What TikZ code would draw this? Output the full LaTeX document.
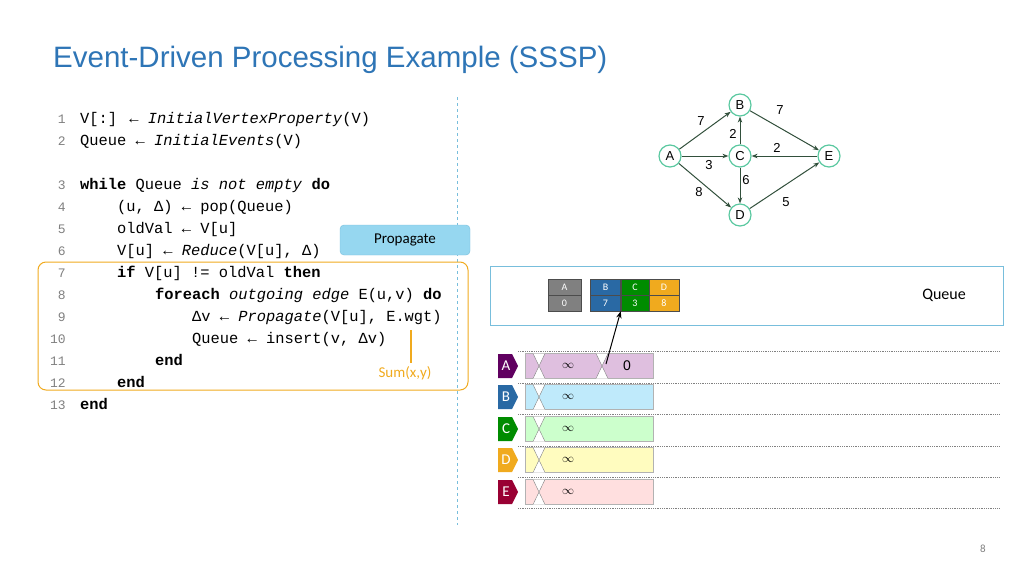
\documentclass[tikz,border=0pt]{standalone}
\usepackage{fontspec}
\setmainfont{Liberation Sans}
\newfontfamily\codefont{Liberation Mono}
\newfontfamily\calfont{Carlito}
\usetikzlibrary{arrows.meta,shapes.geometric}
\definecolor{ttl}{RGB}{46,117,182}
\definecolor{gr}{RGB}{90,200,160}
\definecolor{eg}{RGB}{50,80,60}
\definecolor{orn}{RGB}{240,170,30}
\definecolor{lbl}{RGB}{120,190,220}
\definecolor{pfill}{RGB}{150,215,240}
\begin{document}
\begin{tikzpicture}[x=1pt,y=-1pt,
 code/.style={anchor=base west,inner sep=0,font=\codefont\fontsize{15.4}{16}\selectfont},
 ln/.style={anchor=base east,inner sep=0,text=gray,font=\codefont\fontsize{13}{15}\selectfont},
 gn/.style={circle,draw=gr,line width=1.2pt,minimum size=22pt,inner sep=0,font=\fontsize{13}{14}\selectfont},
 ge/.style={-{Stealth[length=6pt]},eg,line width=1pt},
 el/.style={font=\fontsize{13}{14}\selectfont,inner sep=1pt},
 qc/.style={minimum width=30pt,minimum height=16pt,inner sep=0,draw=black!70,text=white,font=\calfont\fontsize{10}{11}\selectfont},
 bar/.style={minimum width=128pt,minimum height=25pt,inner sep=0,draw=gray!60},
 tagt/.style={text=white,inner sep=0,font=\calfont\fontsize{15}{16}\selectfont},
 dl/.style={gray,densely dotted,line width=0.8pt}]
\useasboundingbox (0,0) rectangle (1024,576);
\node[anchor=west,text=ttl,inner sep=0,font=\fontsize{29.5}{32}\selectfont] (title) at (53,60) {Event-Driven Processing Example (SSSP)};
% code
\foreach \n/\y in {1/118,2/140,3/184,4/206,5/228,6/250,7/272,8/294,9/316,10/338,11/360,12/382,13/404}
  \node[ln] (l\n) at (66,\y+5) {\n};
\node[code] (c1) at (80,123) {V[:] ← \textit{InitialVertexProperty}(V)};
\node[code] (c2) at (80,145) {Queue ← \textit{InitialEvents}(V)};
\node[code] (c3) at (80,189) {\textbf{while} Queue \textit{is not empty} \textbf{do}};
\node[code] (c4) at (117,211) {(u, Δ) ← pop(Queue)};
\node[code] (c5) at (117,233) {oldVal ← V[u]};
\node[code] (c6) at (117,255) {V[u] ← \textit{Reduce}(V[u], Δ)};
\node[code] (c7) at (117,277) {\textbf{if} V[u] != oldVal \textbf{then}};
\node[code] (c8) at (155,299) {\textbf{foreach} \textit{outgoing edge} E(u,v) \textbf{do}};
\node[code] (c9) at (192,321) {Δv ← \textit{Propagate}(V[u], E.wgt)};
\node[code] (c10) at (192,343) {Queue ← insert(v, Δv)};
\node[code] (c11) at (155,365) {\textbf{end}};
\node[code] (c12) at (117,387) {\textbf{end}};
\node[code] (c13) at (80,409) {\textbf{end}};
\draw[lbl,dashed] (457,97) -- (457,525);
\node[draw=lbl,fill=pfill,rounded corners=4pt,minimum width=130pt,minimum height=30pt,font=\calfont\fontsize{15}{16}\selectfont] (prop) at (405,240) {Propagate};
\draw[orn,line width=1pt,rounded corners=8pt] (38,262) rectangle (468,390);
\node[text=orn,font=\calfont\fontsize{15}{16}\selectfont] (sum) at (405,373) {Sum(x,y)};
\draw[orn,line width=1.5pt] (411,330) -- (sum.north-|411,0);
% graph
\node[gn] (A) at (670,156) {A};
\node[gn] (B) at (740,105) {B};
\node[gn] (C) at (740,156) {C};
\node[gn] (D) at (740,215) {D};
\node[gn] (E) at (829,156) {E};
\draw[ge] (A) -- (B); \node[el] at (701,121) {7};
\draw[ge] (A) -- (C); \node[el] at (709,165) {3};
\draw[ge] (A) -- (D); \node[el] at (699,192) {8};
\draw[ge] (C) -- (B); \node[el] at (733,134) {2};
\draw[ge] (C) -- (D); \node[el] at (746,180) {6};
\draw[ge] (E) -- (C); \node[el] at (777,148) {2};
\draw[ge] (B) -- (E); \node[el] at (780,110) {7};
\draw[ge] (D) -- (E); \node[el] at (786,202) {5};
% queue
\node[draw=lbl,line width=1pt,minimum width=513pt,minimum height=59pt,inner sep=0] (qbox) at (746.5,295.5) {};
\node[font=\calfont\fontsize{16}{17}\selectfont] (qlab) at (944,295) {Queue};
\node[qc,fill=gray,minimum width=33pt] (qa1) at (564.5,287) {A};
\node[qc,fill=gray,minimum width=33pt] (qa2) at (564.5,303) {0};
\node[qc,fill=ttl!90!black] (qb1) at (605.5,287) {B};
\node[qc,fill=ttl!90!black] (qb2) at (605.5,303) {7};
\node[qc,fill=green!55!black,minimum width=28pt] (qc1) at (635,287) {C};
\node[qc,fill=green!55!black,minimum width=28pt] (qc2) at (635,303) {3};
\node[qc,fill=orn,minimum width=30pt] (qd1) at (664,287) {D};
\node[qc,fill=orn,minimum width=30pt] (qd2) at (664,303) {8};
% rows
\foreach \y in {351,383,414,446,477,508} \draw[dl] (518,\y) -- (1000,\y);
\foreach \nm/\y/\c/\f in {A/366/violet!75!black/violet!25,B/397/ttl!90!black/cyan!25,C/429/green!55!black/green!20,D/460/orn/yellow!25,E/492/purple!80!black/pink!50}{
  \fill[\c] (498,\y-12) -- (512,\y-12) -- (518,\y) -- (512,\y+12) -- (498,\y+12) -- cycle;
  \node[tagt] (t\nm) at (506,\y) {\nm};
  \node[bar,fill=\f] (b\nm) at (589,\y) {};
  \fill[white] (533,\y-12.5) -- (545,\y-12.5) -- (539,\y) -- cycle (533,\y+12.5) -- (545,\y+12.5) -- (539,\y) -- cycle;
  \draw[gray] (533,\y-12.5) -- (545,\y+12.5) (545,\y-12.5) -- (533,\y+12.5);
  \node[font=\fontsize{13}{14}\selectfont] (inf\nm) at (568,\y) {$\infty$};
}
\fill[white] (596,353.5) -- (608,353.5) -- (602,366) -- cycle (596,378.5) -- (608,378.5) -- (602,366) -- cycle;
\draw[gray] (596,353.5) -- (608,378.5) (608,353.5) -- (596,378.5);
\node[font=\fontsize{14}{15}\selectfont] (zero) at (627,366) {0};
\coordinate (as) at (606,364);
\draw[-{Stealth[length=7pt]},line width=1pt] (as) -- (qb2.south east);
\node[text=gray,font=\calfont\fontsize{11}{12}\selectfont] (pg) at (983,549) {8};
\end{tikzpicture}
\end{document}
